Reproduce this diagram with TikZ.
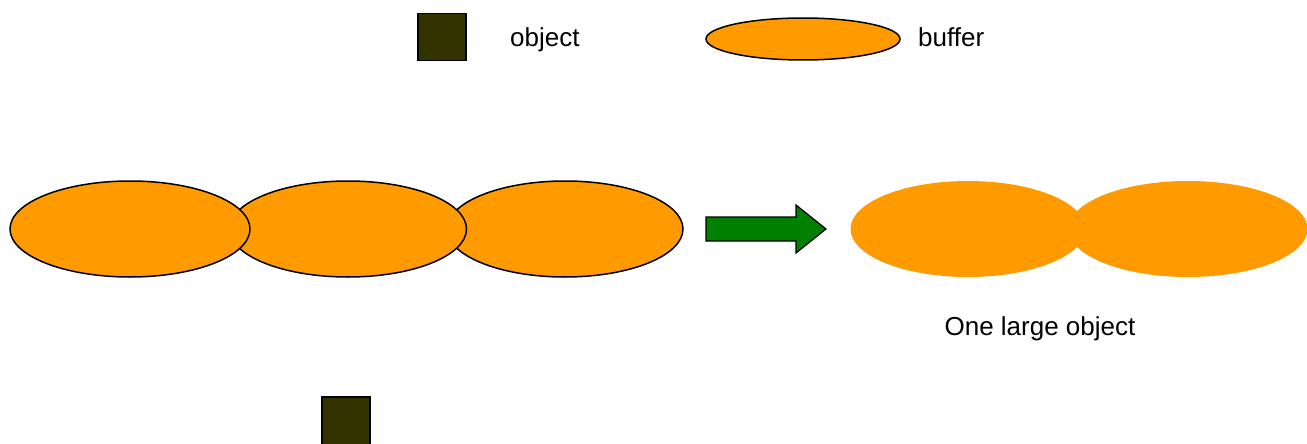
\documentclass[tikz,border=0pt]{standalone}
\usepackage{fontspec}
\setmainfont{Liberation Sans}
\usetikzlibrary{shapes.geometric}
\definecolor{buforange}{RGB}{255,154,0}
\definecolor{objolive}{RGB}{51,51,0}
\definecolor{arrgreen}{RGB}{0,128,0}
\begin{document}
\begin{tikzpicture}[x=1pt,y=-1pt,
  objbox/.style={draw=black,fill=objolive,line width=1.5pt,minimum width=48pt,minimum height=47pt,inner sep=0pt},
  bufell/.style={ellipse,draw=black,fill=buforange,line width=1.5pt,inner sep=0pt},
  blob/.style={ellipse,fill=buforange,inner sep=0pt,minimum width=235pt,minimum height=96pt},
  lbl/.style={font=\fontsize{26}{30}\selectfont,inner sep=0pt}]
\useasboundingbox (0,0) rectangle (1307,444);
% legend
\node[objbox] (legobj) at (442,37) {};
\node[lbl,anchor=base west] (legobjtxt) at (510,47) {object};
\node[bufell,minimum width=194pt,minimum height=42pt] (legbuf) at (803,39) {};
\node[lbl,anchor=base west] (legbuftxt) at (918,47) {buffer};
% three buffers
\node[bufell,minimum width=236pt,minimum height=96pt] (b3) at (565,229) {};
\node[bufell,minimum width=237pt,minimum height=96pt] (b2) at (348,229) {};
\node[bufell,minimum width=240pt,minimum height=96pt] (b1) at (130,229) {};
% arrow
\draw[fill=arrgreen,line width=1.2pt,line join=miter]
  (706,217) -- (796,217) -- (796,205) -- (826,229) -- (796,253) -- (796,241) -- (706,241) -- cycle;
% large object
\node[blob] (l1) at (968,229) {};
\node[blob,minimum width=239pt] (l2) at (1188,229) {};
\node[lbl,anchor=base] (largetxt) at (1040,335) {One large object};
% bottom object
\node[objbox,minimum height=48pt] (botobj) at (346,421) {};
\end{tikzpicture}
\end{document}
